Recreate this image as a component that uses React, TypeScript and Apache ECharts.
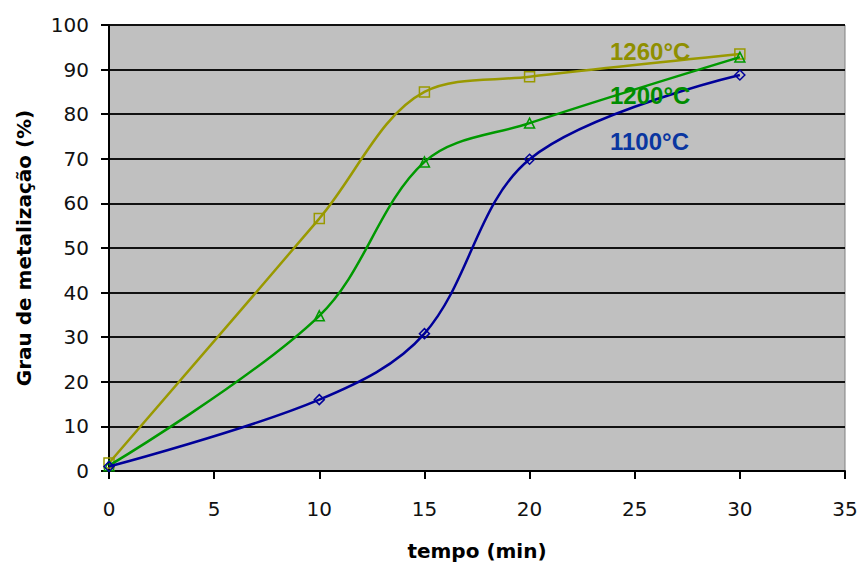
import React, { useEffect, useRef } from "react";
import * as echarts from "echarts";

// tempo (min)
const tempo = [0, 10, 15, 20, 30];
// grau de metalização (%) por temperatura
const serie1260 = [1.8, 56.6, 85, 88.4, 93.5];
const serie1200 = [1.2, 34.8, 69.3, 78, 92.8];
const serie1100 = [1, 16, 30.8, 69.9, 88.8];

const seriesNames = ["1260°C", "1200°C", "1100°C"];
const lineColors = ["#999900", "#009900", "#000099"];
const textColors = ["#8f8f00", "#008c00", "#0a36a0"];
const markers = ["rect", "triangle", "diamond"];

const toPairs = (ys: number[]) => tempo.map((t, i) => [t, ys[i]]);

export default function App() {
  const ref = useRef<HTMLDivElement>(null);

  useEffect(() => {
    if (!ref.current) return;
    const chart = echarts.init(ref.current, null, { renderer: "svg" });
    const values = [serie1260, serie1200, serie1100];

    chart.setOption({
      animation: false,
      backgroundColor: "#ffffff",
      grid: {
        left: 109,
        right: 15,
        top: 25,
        bottom: 92,
        containLabel: false,
        outerBoundsMode: "none",
        show: true,
        backgroundColor: "#c0c0c0",
        borderColor: "#808080",
        borderWidth: 1,
      },
      xAxis: {
        type: "value",
        min: 0,
        max: 35,
        interval: 5,
        name: "tempo (min)",
        nameLocation: "middle",
        nameGap: 70,
        nameTextStyle: {
          fontFamily: "DejaVu Sans",
          fontWeight: "bold",
          fontSize: 20,
          color: "#000",
        },
        axisLine: { show: true, lineStyle: { color: "#000", width: 2 } },
        axisTick: { show: true, length: 8, lineStyle: { color: "#000", width: 2 } },
        splitLine: { show: false },
        axisLabel: {
          fontFamily: "DejaVu Sans",
          fontSize: 20,
          color: "#111",
          margin: 28,
        },
      },
      yAxis: {
        type: "value",
        min: 0,
        max: 100,
        interval: 10,
        name: "Grau de metalização (%)",
        nameLocation: "middle",
        nameRotate: 90,
        nameGap: 75,
        nameTextStyle: {
          fontFamily: "DejaVu Sans",
          fontWeight: "bold",
          fontSize: 20,
          color: "#000",
        },
        axisLine: { show: true, lineStyle: { color: "#000", width: 2 } },
        axisTick: { show: true, length: 8, lineStyle: { color: "#000", width: 2 } },
        splitLine: { show: true, lineStyle: { color: "#111", width: 2 } },
        axisLabel: {
          fontFamily: "DejaVu Sans",
          fontSize: 20,
          color: "#111",
          margin: 20,
        },
      },
      series: values.map((ys, i) => ({
        name: seriesNames[i],
        type: "line",
        data: toPairs(ys),
        smooth: 0.35,
        symbol: markers[i],
        symbolSize: 10,
        showAllSymbol: true,
        lineStyle: { color: lineColors[i], width: 2.5 },
        itemStyle: {
          color: "rgba(0,0,0,0)",
          borderColor: lineColors[i],
          borderWidth: 1.5,
        },
        z: 3 + i,
      })),
      graphic: seriesNames.map((name, i) => ({
        type: "text",
        left: 610,
        top: [39, 83, 129][i],
        z: 10,
        style: {
          text: name,
          fill: textColors[i],
          font: "bold 24px 'Liberation Sans', Arial, sans-serif",
        },
      })),
    });

    return () => chart.dispose();
  }, []);

  return (
    <div
      ref={ref}
      style={{ position: "absolute", left: 0, top: 0, width: 860, height: 563 }}
    />
  );
}
